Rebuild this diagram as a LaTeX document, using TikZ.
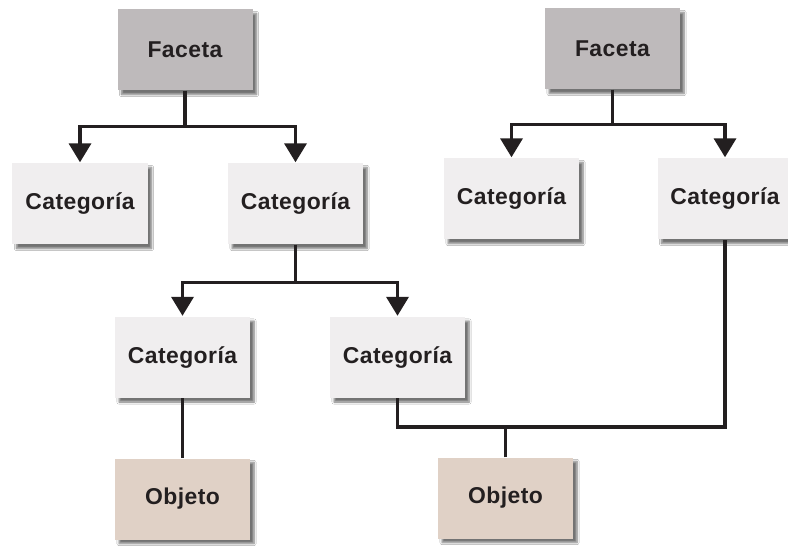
\documentclass[tikz,border=0pt]{standalone}
\usepackage{fontspec}
\setmainfont{Liberation Sans}[LetterSpace=2]
\usetikzlibrary{arrows.meta,shadows.blur}
\definecolor{facetafill}{HTML}{BEBABB}
\definecolor{catfill}{HTML}{F0EEEF}
\definecolor{objfill}{HTML}{E0D1C6}
\definecolor{linecol}{HTML}{231F20}
\tikzset{
  box/.style={minimum width=135bp, minimum height=81bp, inner sep=0pt,
    font=\fontsize{23}{26}\selectfont\bfseries, text=linecol,
    blur shadow={shadow xshift=4bp, shadow yshift=-4bp, shadow blur steps=6, shadow opacity=55}},
  faceta/.style={box, fill=facetafill},
  cat/.style={box, fill=catfill},
  obj/.style={box, fill=objfill},
  conn/.style={draw=linecol, line width=3.6bp},
  arrow/.style={conn, -{Triangle[width=22bp,length=19bp]}, shorten >=1bp},
}
\begin{document}
\begin{tikzpicture}[x=1bp,y=-1bp]
\useasboundingbox (0,0) rectangle (788,548);
\fill[white] (0,0) rectangle (788,548);
% left tree
\node[faceta] (fl) at (185,50) {Faceta};
\node[cat] (cl1) at (80,204) {Categoría};
\node[cat] (cl2) at (295.5,204) {Categoría};
\node[cat] (c3) at (182.5,357.5) {Categoría};
\node[cat] (c4) at (397.5,357.5) {Categoría};
\node[obj] (o1) at (182.5,499) {Objeto};
\node[obj] (o2) at (505.5,498) {Objeto};
% right tree
\node[faceta] (fr) at (612.5,49) {Faceta};
\node[cat] (cr1) at (511.5,199) {Categoría};
\node[cat] (cr2) at (725,199) {Categoría};
% connectors
\path (fl.south) ++(0,36) coordinate (jL);
\draw[conn] (fl.south) -- (jL);
\draw[arrow] (jL) -| (cl1.north);
\draw[arrow] (jL) -| (cl2.north);
\path (cl2.south) ++(0,38) coordinate (jM);
\draw[conn] (cl2.south) -- (jM);
\draw[arrow] (jM) -| (c3.north);
\draw[arrow] (jM) -| (c4.north);
\path (fr.south) ++(0,35) coordinate (jR);
\draw[conn] (fr.south) -- (jR);
\draw[arrow] (jR) -| (cr1.north);
\draw[arrow] (jR) -| (cr2.north);
\draw[conn] (c3.south) -- (o1.north);
\path (c4.south) ++(0,29) coordinate (jB);
\draw[conn] (c4.south) -- (jB) -| (cr2.south);
\draw[conn] (o2.north) -- (o2.north |- jB);
\end{tikzpicture}
\end{document}
